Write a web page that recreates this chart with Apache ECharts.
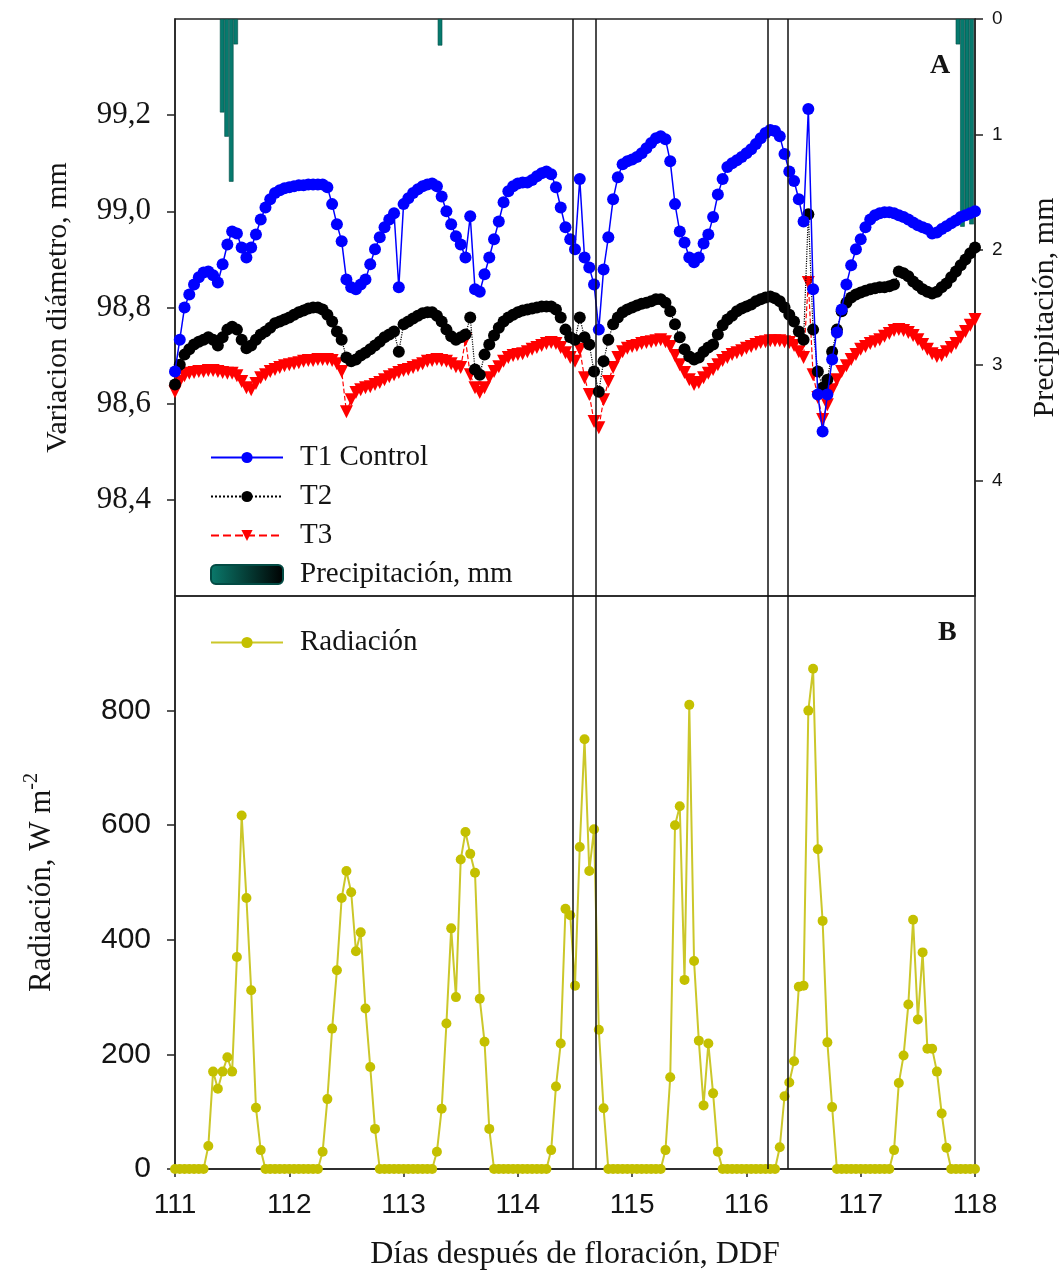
<!DOCTYPE html>
<html>
<head>
<meta charset="utf-8">
<script src="https://cdn.jsdelivr.net/npm/echarts@6/dist/echarts.min.js"></script>
<style>
  html, body { margin: 0; padding: 0; background: #ffffff; }
  #chart { width: 1064px; height: 1274px; }
</style>
</head>
<body>
<div id="chart"></div>
<script>
// Hourly records, 111.0 to 118.0 days after flowering
const firstDay = 111;
const lastDay = 118;
const samplesPerDay = 24;

// Stem diameter variation (mm)
const t1Control = [
  98.667, 98.733, 98.800, 98.827, 98.848, 98.863, 98.873, 98.875, 98.867, 98.852, 98.890, 98.931, 98.958, 98.954, 98.925, 98.904, 98.925, 98.952, 98.983, 99.008, 99.025, 99.038, 99.044, 99.048,
  99.050, 99.052, 99.054, 99.054, 99.056, 99.056, 99.056, 99.056, 99.050, 99.015, 98.973, 98.938, 98.858, 98.842, 98.838, 98.848, 98.858, 98.890, 98.921, 98.946, 98.967, 98.983, 98.996, 98.842,
  99.015, 99.027, 99.038, 99.046, 99.052, 99.056, 99.058, 99.052, 99.031, 99.000, 98.973, 98.948, 98.931, 98.904, 98.990, 98.838, 98.833, 98.869, 98.904, 98.942, 98.979, 99.019, 99.042, 99.052,
  99.058, 99.060, 99.060, 99.065, 99.073, 99.079, 99.083, 99.077, 99.050, 99.008, 98.967, 98.942, 98.921, 99.067, 98.904, 98.883, 98.848, 98.754, 98.879, 98.946, 99.025, 99.071, 99.098, 99.104,
  99.108, 99.113, 99.121, 99.131, 99.142, 99.152, 99.156, 99.150, 99.104, 99.015, 98.958, 98.935, 98.904, 98.894, 98.904, 98.933, 98.952, 98.988, 99.035, 99.067, 99.092, 99.100, 99.106, 99.113,
  99.121, 99.129, 99.140, 99.152, 99.163, 99.169, 99.167, 99.156, 99.119, 99.083, 99.063, 99.025, 98.979, 99.213, 98.838, 98.619, 98.542, 98.619, 98.692, 98.748, 98.796, 98.848, 98.888, 98.921,
  98.942, 98.967, 98.983, 98.992, 98.996, 98.998, 98.998, 98.996, 98.992, 98.988, 98.983, 98.977, 98.971, 98.967, 98.963, 98.954, 98.956, 98.963, 98.969, 98.975, 98.981, 98.988, 98.992, 98.996,
  99.000
];

const t2 = [
  98.640, 98.681, 98.702, 98.713, 98.723, 98.729, 98.733, 98.738, 98.733, 98.721, 98.738, 98.754, 98.760, 98.754, 98.733, 98.715, 98.721, 98.733, 98.744, 98.750, 98.758, 98.767, 98.771, 98.775,
  98.779, 98.785, 98.790, 98.794, 98.798, 98.800, 98.800, 98.796, 98.785, 98.771, 98.750, 98.733, 98.696, 98.688, 98.692, 98.700, 98.706, 98.713, 98.721, 98.729, 98.738, 98.744, 98.750, 98.708,
  98.765, 98.771, 98.777, 98.783, 98.788, 98.790, 98.790, 98.783, 98.771, 98.754, 98.740, 98.733, 98.738, 98.744, 98.779, 98.671, 98.660, 98.702, 98.723, 98.742, 98.758, 98.771, 98.779, 98.785,
  98.790, 98.794, 98.796, 98.798, 98.800, 98.802, 98.802, 98.802, 98.796, 98.779, 98.754, 98.738, 98.733, 98.779, 98.738, 98.723, 98.667, 98.625, 98.688, 98.733, 98.765, 98.779, 98.790, 98.796,
  98.800, 98.804, 98.808, 98.810, 98.813, 98.817, 98.817, 98.810, 98.792, 98.765, 98.738, 98.713, 98.698, 98.692, 98.696, 98.708, 98.717, 98.723, 98.744, 98.763, 98.775, 98.783, 98.792, 98.798,
  98.802, 98.806, 98.813, 98.817, 98.821, 98.823, 98.819, 98.813, 98.800, 98.785, 98.771, 98.750, 98.733, 98.994, 98.754, 98.667, 98.633, 98.650, 98.708, 98.754, 98.792, 98.810, 98.821, 98.827,
  98.831, 98.835, 98.838, 98.840, 98.842, 98.842, 98.844, 98.848, 98.875, 98.871, 98.865, 98.854, 98.846, 98.838, 98.833, 98.829, 98.833, 98.842, 98.850, 98.863, 98.875, 98.888, 98.900, 98.913,
  98.925
];

const t3 = [
  98.625, 98.646, 98.658, 98.663, 98.665, 98.667, 98.667, 98.669, 98.669, 98.667, 98.665, 98.663, 98.663, 98.658, 98.646, 98.633, 98.629, 98.642, 98.654, 98.660, 98.667, 98.671, 98.675, 98.679,
  98.681, 98.683, 98.685, 98.688, 98.690, 98.690, 98.692, 98.692, 98.692, 98.690, 98.683, 98.667, 98.583, 98.608, 98.623, 98.629, 98.633, 98.635, 98.640, 98.644, 98.650, 98.656, 98.660, 98.665,
  98.669, 98.671, 98.675, 98.679, 98.683, 98.688, 98.690, 98.692, 98.690, 98.688, 98.683, 98.677, 98.675, 98.733, 98.660, 98.633, 98.623, 98.633, 98.654, 98.667, 98.677, 98.688, 98.696, 98.700,
  98.702, 98.704, 98.708, 98.713, 98.717, 98.721, 98.725, 98.727, 98.725, 98.717, 98.706, 98.696, 98.688, 98.713, 98.654, 98.619, 98.563, 98.550, 98.608, 98.646, 98.675, 98.696, 98.708, 98.715,
  98.719, 98.721, 98.725, 98.727, 98.729, 98.731, 98.733, 98.729, 98.719, 98.700, 98.681, 98.665, 98.650, 98.640, 98.644, 98.654, 98.663, 98.671, 98.681, 98.690, 98.696, 98.702, 98.706, 98.710,
  98.715, 98.719, 98.723, 98.727, 98.729, 98.731, 98.731, 98.731, 98.729, 98.727, 98.721, 98.708, 98.696, 98.852, 98.660, 98.613, 98.567, 98.598, 98.629, 98.650, 98.667, 98.679, 98.692, 98.702,
  98.713, 98.719, 98.725, 98.729, 98.733, 98.740, 98.746, 98.752, 98.754, 98.752, 98.748, 98.742, 98.733, 98.723, 98.713, 98.704, 98.698, 98.700, 98.708, 98.717, 98.725, 98.738, 98.750, 98.763,
  98.775
];

// Solar radiation (W m-2)
const radiation = [
  0, 0, 0, 0, 0, 0, 0, 40, 170, 140, 170, 195, 170, 370, 617, 473, 312, 107, 33, 0, 0, 0, 0, 0,
  0, 0, 0, 0, 0, 0, 0, 30, 122, 245, 347, 473, 520, 483, 380, 413, 280, 178, 70, 0, 0, 0, 0, 0,
  0, 0, 0, 0, 0, 0, 0, 30, 105, 254, 420, 300, 540, 588, 550, 517, 297, 222, 70, 0, 0, 0, 0, 0,
  0, 0, 0, 0, 0, 0, 0, 33, 144, 219, 454, 443, 320, 562, 750, 520, 593, 243, 106, 0, 0, 0, 0, 0,
  0, 0, 0, 0, 0, 0, 0, 33, 160, 600, 633, 330, 810, 363, 224, 111, 219, 132, 30, 0, 0, 0, 0, 0,
  0, 0, 0, 0, 0, 0, 0, 38, 127, 151, 188, 318, 320, 800, 873, 558, 433, 221, 108, 0, 0, 0, 0, 0,
  0, 0, 0, 0, 0, 0, 0, 33, 150, 198, 287, 435, 261, 378, 210, 210, 170, 97, 37, 0, 0, 0, 0, 0,
  0
];

// Rainfall events (day, mm)
const rainDays = [111.413, 111.452, 111.492, 111.531, 113.319, 117.851, 117.890, 117.930, 117.970];
const rainMm = [0.81, 1.02, 1.41, 0.22, 0.23, 0.22, 1.80, 1.72, 1.78];

// Reference times marked across both panels
const markedDays = [114.476, 114.684, 116.191, 116.361];

// Axis ticks
const dayTicks = { min: firstDay, max: lastDay, step: 1 };
const diameterTicks = { min: 98.2, max: 99.4, step: 0.2 };
const rainTicks = { min: 0, max: 5, step: 1 };
const radiationTicks = { min: 0, max: 1000, step: 200 };

[t1Control, t2, t3, radiation].forEach(function (s) {
  if (s.length !== (lastDay - firstDay) * samplesPerDay + 1) {
    throw new Error('series length ' + s.length);
  }
});

function timed(values) {
  return values.map(function (v, i) { return [firstDay + i / samplesPerDay, v]; });
}

const serif = "'Liberation Serif', 'Times New Roman', serif";
const sans = "'Liberation Sans', Arial, sans-serif";
const ink = '#141414';
const frame = '#222222';

const chart = echarts.init(document.getElementById('chart'), null, { renderer: 'canvas' });

const markLines = {
  silent: true,
  symbol: ['none', 'none'],
  label: { show: false },
  lineStyle: { color: '#111', width: 1.5, type: 'solid' },
  data: markedDays.map(function (d) { return { xAxis: d }; })
};

const legendText = { fontFamily: serif, fontSize: 29, color: ink, lineHeight: 29, padding: [0, 0, 0, 12] };

const option = {
  animation: false,
  backgroundColor: '#ffffff',
  title: [
    { text: 'A', left: 925, top: 47, textStyle: { fontFamily: serif, fontWeight: 'bold', fontSize: 28, color: ink } },
    { text: 'B', left: 933, top: 614, textStyle: { fontFamily: serif, fontWeight: 'bold', fontSize: 28, color: ink } }
  ],
  legend: [
    {
      data: ['T1 Control', 'T2', 'T3'],
      orient: 'vertical', left: 205, top: 438,
      itemWidth: 72, itemHeight: 14, itemGap: 10,
      textStyle: legendText
    },
    {
      data: [{
        name: 'Precipitación, mm',
        itemStyle: {
          color: new echarts.graphic.LinearGradient(0, 0, 1, 0, [
            { offset: 0, color: '#0a7a6c' },
            { offset: 1, color: '#000000' }
          ])
        }
      }],
      orient: 'vertical', left: 205, top: 555,
      itemWidth: 72, itemHeight: 19,
      textStyle: legendText
    },
    {
      data: ['Radiación'],
      orient: 'vertical', left: 205, top: 623,
      itemWidth: 72, itemHeight: 14,
      textStyle: legendText
    }
  ],
  grid: [
    { left: 175, right: 89, top: 19, height: 577, show: true, borderColor: frame, borderWidth: 1.5, containLabel: false, outerBoundsMode: 'none' },
    { left: 175, right: 89, top: 596, height: 573, show: true, borderColor: frame, borderWidth: 1.5, containLabel: false, outerBoundsMode: 'none' }
  ],
  xAxis: [
    {
      gridIndex: 0, type: 'value', min: dayTicks.min, max: dayTicks.max, interval: dayTicks.step,
      axisLine: { show: false }, axisTick: { show: false }, axisLabel: { show: false }, splitLine: { show: false }
    },
    {
      gridIndex: 1, type: 'value', min: dayTicks.min, max: dayTicks.max, interval: dayTicks.step,
      axisLine: { lineStyle: { color: frame, width: 1.5 } },
      axisTick: { length: 8, lineStyle: { color: frame, width: 1.5 } },
      axisLabel: { fontFamily: sans, fontSize: 28, color: ink, margin: 22 },
      splitLine: { show: false },
      name: 'Días después de floración, DDF', nameLocation: 'middle', nameGap: 70,
      nameTextStyle: { fontFamily: serif, fontSize: 32, color: ink }
    }
  ],
  yAxis: [
    {
      gridIndex: 0, type: 'value', position: 'left',
      min: diameterTicks.min, max: diameterTicks.max, interval: diameterTicks.step,
      axisLine: { show: true, lineStyle: { color: frame, width: 1.5 } },
      axisTick: { show: true, length: 8, lineStyle: { color: frame, width: 1.5 } },
      axisLabel: {
        fontFamily: serif, fontSize: 31, color: ink, margin: 24,
        showMinLabel: false, showMaxLabel: false,
        formatter: function (v) { return v.toFixed(1).replace('.', ','); }
      },
      splitLine: { show: false },
      name: 'Variacion diámetro, mm', nameLocation: 'middle', nameGap: 102, nameRotate: 90,
      nameTextStyle: { fontFamily: serif, fontSize: 30, color: ink }
    },
    {
      gridIndex: 0, type: 'value', position: 'right', inverse: true,
      min: rainTicks.min, max: rainTicks.max, interval: rainTicks.step,
      axisLine: { show: true, lineStyle: { color: frame, width: 1.5 } },
      axisTick: { show: true, length: 8, lineStyle: { color: frame, width: 1.5 } },
      axisLabel: { fontFamily: sans, fontSize: 19, color: ink, margin: 17, showMaxLabel: false },
      splitLine: { show: false },
      name: 'Precipitación, mm', nameLocation: 'middle', nameGap: 55, nameRotate: 90,
      nameTextStyle: { fontFamily: serif, fontSize: 30, color: ink }
    },
    {
      gridIndex: 1, type: 'value', position: 'left',
      min: radiationTicks.min, max: radiationTicks.max, interval: radiationTicks.step,
      axisLine: { show: true, lineStyle: { color: frame, width: 1.5 } },
      axisTick: { show: true, length: 8, lineStyle: { color: frame, width: 1.5 } },
      axisLabel: { fontFamily: sans, fontSize: 30, color: ink, margin: 24, showMaxLabel: false },
      splitLine: { show: false },
      name: '{n|Radiación, W m}{s|-2}', nameLocation: 'middle', nameGap: 118, nameRotate: 90,
      nameTextStyle: {
        fontFamily: serif, fontSize: 31, color: ink,
        rich: {
          n: { fontFamily: serif, fontSize: 31, color: ink, lineHeight: 35, verticalAlign: 'bottom' },
          s: { fontFamily: serif, fontSize: 20, color: ink, lineHeight: 35, verticalAlign: 'top' }
        }
      }
    }
  ],
  series: [
    {
      name: 'Precipitación, mm', type: 'bar', xAxisIndex: 0, yAxisIndex: 1,
      data: rainDays.map(function (d, i) { return [d, rainMm[i]]; }),
      barWidth: 4.6, barGap: '-100%',
      itemStyle: { color: '#067a6e', borderColor: '#034b44', borderWidth: 0.6 },
      z: 1
    },
    {
      name: 'T3', type: 'line', xAxisIndex: 0, yAxisIndex: 0,
      data: timed(t3),
      symbol: 'triangle', symbolRotate: 180, symbolSize: 13,
      itemStyle: { color: '#ff0000' },
      lineStyle: { color: '#ff0000', width: 1.2, type: 'dashed' },
      z: 2
    },
    {
      name: 'T2', type: 'line', xAxisIndex: 0, yAxisIndex: 0,
      data: timed(t2),
      symbol: 'circle', symbolSize: 12,
      itemStyle: { color: '#000000' },
      lineStyle: { color: '#000000', width: 1.2, type: 'dotted' },
      z: 3
    },
    {
      name: 'T1 Control', type: 'line', xAxisIndex: 0, yAxisIndex: 0,
      data: timed(t1Control),
      symbol: 'circle', symbolSize: 12,
      itemStyle: { color: '#0000ff' },
      lineStyle: { color: '#0000ff', width: 1.5 },
      markLine: markLines,
      z: 4
    },
    {
      name: 'Radiación', type: 'line', xAxisIndex: 1, yAxisIndex: 2,
      data: timed(radiation),
      symbol: 'circle', symbolSize: 10,
      itemStyle: { color: '#c4c000' },
      lineStyle: { color: '#cbc72a', width: 2 },
      markLine: markLines,
      z: 3
    }
  ]
};

chart.setOption(option);
</script>
</body>
</html>
